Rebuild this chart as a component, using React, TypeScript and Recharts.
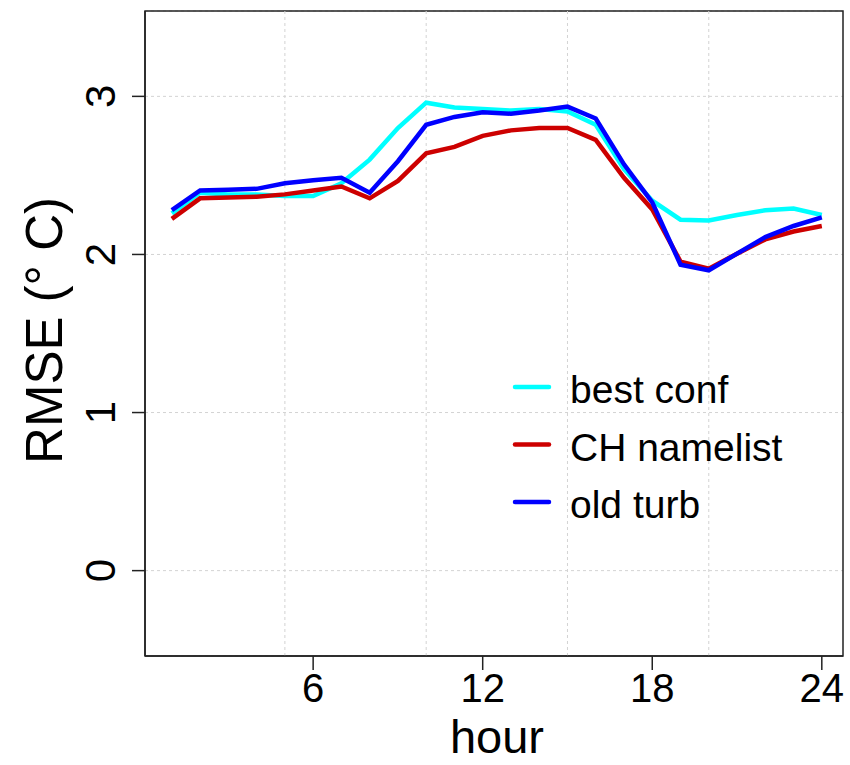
import React from 'react';
import {
  LineChart,
  Line,
  XAxis,
  YAxis,
  CartesianGrid,
  ReferenceLine,
  ReferenceArea,
  Legend,
} from 'recharts';

const hours = [1, 2, 3, 4, 5, 6, 7, 8, 9, 10, 11, 12, 13, 14, 15, 16, 17, 18, 19, 20, 21, 22, 23, 24];
const bestConf = [2.26, 2.39, 2.38, 2.38, 2.37, 2.37, 2.45, 2.6, 2.8, 2.96, 2.93, 2.92, 2.91, 2.92, 2.905, 2.82, 2.54, 2.34, 2.22, 2.215, 2.25, 2.28, 2.29, 2.25];
const chNamelist = [2.225, 2.355, 2.36, 2.365, 2.38, 2.405, 2.43, 2.355, 2.465, 2.64, 2.68, 2.75, 2.785, 2.8, 2.8, 2.725, 2.485, 2.285, 1.955, 1.91, 2.005, 2.095, 2.145, 2.18];
const oldTurb = [2.28, 2.405, 2.41, 2.415, 2.45, 2.47, 2.485, 2.39, 2.59, 2.82, 2.87, 2.9, 2.89, 2.91, 2.935, 2.86, 2.57, 2.33, 1.935, 1.9, 2.005, 2.11, 2.18, 2.235];

const xTicks = [6, 12, 18, 24];
const yTicks = [0, 1, 2, 3];
const xGridHours = [5, 10, 15, 20];
const xDomain: [number, number] = [0.05, 24.75];
const yDomain: [number, number] = [-0.54, 3.54];

const seriesNames = ['best conf', 'CH namelist', 'old turb'];
const seriesColors = ['#00FFFF', '#CD0000', '#0000FF'];

const data = hours.map((h, i) => ({
  hour: h,
  best: bestConf[i],
  ch: chNamelist[i],
  old: oldTurb[i],
}));

const FONT = '"Liberation Sans", Arial, sans-serif';
const AXIS = '#222';
const GRID = '#D3D3D3';

const XTick = (props: any) => {
  const { x, y, payload } = props;
  return (
    <text x={x} y={y + 30} textAnchor="middle" fontFamily={FONT} fontSize={40} fill="#000">
      {payload.value}
    </text>
  );
};

const YTick = (props: any) => {
  const { x, y, payload } = props;
  const bx = x - 15;
  return (
    <text
      x={bx}
      y={y}
      textAnchor="middle"
      fontFamily={FONT}
      fontSize={42}
      fill="#000"
      transform={`rotate(-90, ${bx}, ${y})`}
    >
      {payload.value}
    </text>
  );
};

const YLabel = (props: any) => {
  const vb = props.viewBox || {};
  const cx = (vb.x || 0) + 62;
  const cy = (vb.y || 0) + (vb.height || 0) / 2 - 3;
  return (
    <text
      x={cx}
      y={cy}
      textAnchor="middle"
      fontFamily={FONT}
      fontSize={51}
      fill="#000"
      transform={`rotate(-90, ${cx}, ${cy})`}
    >
      RMSE (° C)
    </text>
  );
};

const XLabel = (props: any) => {
  const vb = props.viewBox || {};
  const cx = (vb.x || 0) + (vb.width || 0) / 2 + 3;
  const cy = (vb.y || 0) + 97;
  return (
    <text x={cx} y={cy} textAnchor="middle" fontFamily={FONT} fontSize={47} fill="#000">
      hour
    </text>
  );
};

const LegendContent = (props: any) => {
  const payload = props.payload || [];
  return (
    <svg width={320} height={180} style={{ overflow: 'visible', display: 'block' }}>
      {payload.map((p: any, i: number) => {
        const cy = 27 + i * 57.5;
        return (
          <g key={i}>
            <line x1={10} x2={44} y1={cy} y2={cy} stroke={p.color} strokeWidth={4.5} strokeLinecap="round" />
            <text x={65} y={cy + 16} fontFamily={FONT} fontSize={39} fill="#000">
              {p.value}
            </text>
          </g>
        );
      })}
    </svg>
  );
};

export default function App() {
  return (
    <div style={{ position: 'absolute', left: 0, top: 0, width: 850, height: 765, background: '#fff' }}>
      <LineChart
        width={850}
        height={765}
        data={data}
        margin={{ top: 11, right: 7, bottom: 0, left: 0 }}
      >
        <CartesianGrid vertical={false} stroke={GRID} strokeDasharray="3 3" />
        <XAxis
          dataKey="hour"
          type="number"
          domain={xDomain}
          ticks={xTicks}
          allowDataOverflow
          height={109}
          tickSize={14}
          tickMargin={2}
          axisLine={{ stroke: AXIS, strokeWidth: 1.5 }}
          tickLine={{ stroke: AXIS, strokeWidth: 1.5 }}
          tick={<XTick />}
          label={<XLabel />}
        />
        <YAxis
          type="number"
          domain={yDomain}
          ticks={yTicks}
          allowDataOverflow
          width={145}
          tickSize={13}
          tickMargin={2}
          axisLine={{ stroke: AXIS, strokeWidth: 1.5 }}
          tickLine={{ stroke: AXIS, strokeWidth: 1.5 }}
          tick={<YTick />}
          label={<YLabel />}
        />
        {xGridHours.map((h) => (
          <ReferenceLine key={h} x={h} stroke={GRID} strokeDasharray="3 3" strokeWidth={1} />
        ))}
        <ReferenceArea
          x1={xDomain[0]}
          x2={xDomain[1]}
          y1={yDomain[0]}
          y2={yDomain[1]}
          fill="none"
          fillOpacity={0}
          stroke={AXIS}
          strokeWidth={1.5}
          ifOverflow="visible"
        />
        <Legend
          layout="horizontal"
          verticalAlign="middle"
          align="center"
          itemSorter={(item: any) => seriesNames.indexOf(item.value)}
          content={<LegendContent />}
          wrapperStyle={{ position: 'absolute', left: 505, top: 360, width: 320, height: 180 }}
        />
        <Line
          type="linear"
          dataKey="best"
          name={seriesNames[0]}
          stroke={seriesColors[0]}
          strokeWidth={4.5}
          dot={false}
          isAnimationActive={false}
        />
        <Line
          type="linear"
          dataKey="ch"
          name={seriesNames[1]}
          stroke={seriesColors[1]}
          strokeWidth={4.5}
          dot={false}
          isAnimationActive={false}
        />
        <Line
          type="linear"
          dataKey="old"
          name={seriesNames[2]}
          stroke={seriesColors[2]}
          strokeWidth={4.5}
          dot={false}
          isAnimationActive={false}
        />
      </LineChart>
    </div>
  );
}
